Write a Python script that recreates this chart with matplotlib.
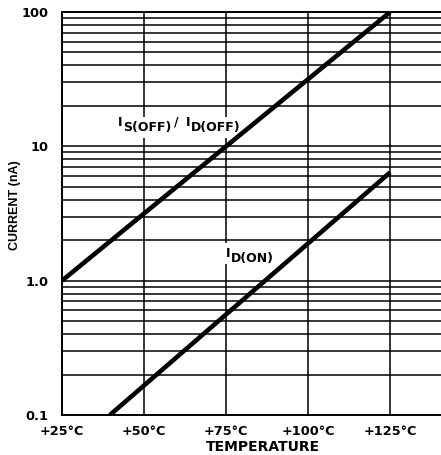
import numpy as np
import matplotlib
matplotlib.use("Agg")
import matplotlib.pyplot as plt

# leakage current vs temperature
temp_off = [25, 125]
i_off = [1.0, 100]
temp_on = [39.6, 125]
i_on = [0.1, 6.4]

xticks = [25, 50, 75, 100, 125]
xticklabels = ["+25°C", "+50°C", "+75°C", "+100°C", "+125°C"]
yticks = [0.1, 1.0, 10, 100]
yticklabels = ["0.1", "1.0", "10", "100"]

fig = plt.figure(figsize=(4.41, 4.55), dpi=100)
ax = fig.add_axes([0.1406, 0.0879, 0.8594, 0.8857])

ax.set_yscale("log")
ax.set_xlim(25, 140.5)
ax.set_ylim(0.1, 100)

# grid: every 1..9 per decade, plus the temperature lines
for dec in [0.1, 1, 10]:
    for k in range(1, 10):
        ax.axhline(dec * k, color="black", lw=1.1, zorder=1)
for t in xticks[1:]:
    ax.axvline(t, color="black", lw=1.1, zorder=1)

ax.plot(temp_off, i_off, color="black", lw=3.3, solid_capstyle="butt", zorder=4)
ax.plot(temp_on, i_on, color="black", lw=3.3, solid_capstyle="butt", zorder=4)

for s in ["left", "bottom", "top"]:
    ax.spines[s].set_linewidth(1.4)
ax.spines["right"].set_visible(False)

tick_font = dict(fontfamily="DejaVu Sans", fontweight="bold", fontsize=9.3)
ax.set_xticks(xticks)
ax.set_xticklabels(xticklabels, **tick_font)
ax.set_yticks(yticks)
ax.set_yticklabels(yticklabels, **tick_font)
ax.yaxis.set_minor_locator(matplotlib.ticker.NullLocator())
ax.tick_params(axis="both", length=0)
ax.tick_params(axis="y", pad=10)
ax.tick_params(axis="x", pad=7)

ax.set_xlabel("TEMPERATURE", fontfamily="DejaVu Sans", fontweight="bold", fontsize=10)
ax.xaxis.set_label_coords(0.53, -0.079)
ax.xaxis.label.set_va("center")
ax.set_ylabel("CURRENT (nA)", fontfamily="Liberation Sans", fontweight="bold", fontsize=9)
ax.yaxis.set_label_coords(-0.124, 0.52)
ax.yaxis.label.set_va("center")


def label(x, y, parts):
    # parts: (text, dy, dx) in points relative to the previous piece
    # first pass lays white boxes over the grid, second pass draws the text
    for z, bg in [(2, True), (3, False)]:
        kw = dict(fontfamily="DejaVu Sans", fontweight="bold", fontsize=9, zorder=z,
                  color="white" if bg else "black")
        if bg:
            kw["bbox"] = dict(facecolor="white", edgecolor="none", pad=3)
        prev = ax.text(x, y, parts[0][0], va="bottom", ha="left", **kw)
        for txt, dy, dx in parts[1:]:
            prev = ax.annotate(txt, xy=(1, 0), xycoords=prev, xytext=(dx, dy),
                               textcoords="offset points", va="bottom", ha="left", **kw)


label(42.0, 13.5, [("I", 0, 0), ("S(OFF)", -3.5, 0.5), ("/", 3.5, 2), ("I", 0, 5), ("D(OFF)", -3.5, 0.5)])
label(75.0, 1.42, [("I", 0, 0), ("D(ON)", -3.5, 0.5)])

fig.savefig("out.png", dpi=100)
